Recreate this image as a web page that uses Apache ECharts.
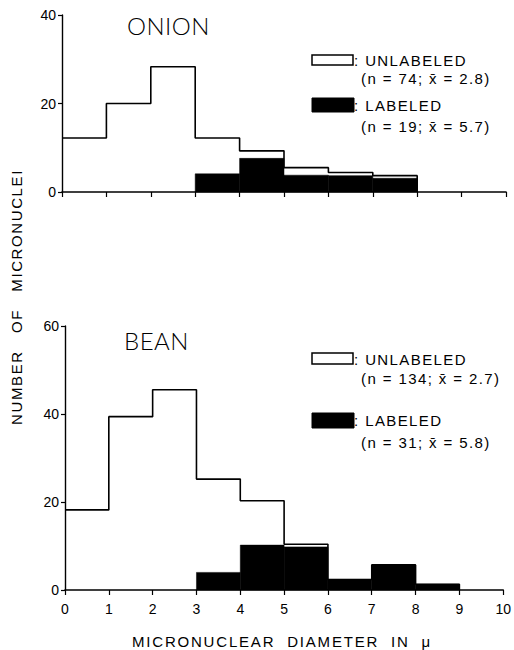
<!DOCTYPE html>
<html><head><meta charset="utf-8">
<script src="https://cdn.jsdelivr.net/npm/echarts@6/dist/echarts.min.js"></script>
<style>html,body{margin:0;padding:0;background:#fff}#c{width:514px;height:650px}</style>
</head><body><div id="c"></div>
<script>
// ---- data ----
const binEdges = [0, 1, 2, 3, 4, 5, 6, 7, 8, 9, 10];
const xTickLabels = ['0', '1', '2', '3', '4', '5', '6', '7', '8', '9', '10'];
const onionTotalOutline = [12.2, 20, 28.3, 12.2, 9.3, 5.5, 4.4, 3.7, 0, 0];
const onionLabeled = [0, 0, 0, 4.1, 7.6, 3.8, 3.7, 3.1, 0, 0];
const beanTotalOutline = [18.2, 39.4, 45.5, 25.2, 20.3, 10.4, 2.4, 5.7, 1.3, 0];
const beanLabeled = [0, 0, 0, 4.0, 10.2, 9.8, 2.4, 5.7, 1.3, 0];
const onionYTicks = [0, 20, 40];
const beanYTicks = [0, 20, 40, 60];
const onionLegend = [': UNLABELED', '(n = 74; x\u0304 = 2.8)', ': LABELED', '(n = 19; x\u0304 = 5.7)'];
const beanLegend = [': UNLABELED', '(n = 134; x\u0304 = 2.7)', ': LABELED', '(n = 31; x\u0304 = 5.8)'];
const yTitle = 'NUMBER   OF   MICRONUCLEI';
const xTitle = 'MICRONUCLEAR  DIAMETER  IN  \u03bc';

// ---- helpers ----
function outlinePoints(counts) {
  let last = -1;
  counts.forEach((v, i) => { if (v > 0) last = i; });
  const pts = [];
  for (let i = 0; i <= last; i++) pts.push([binEdges[i], counts[i]]);
  pts.push([binEdges[last + 1], 0]);
  return pts;
}
function barData(counts) {
  const d = [];
  counts.forEach((v, i) => { if (v > 0) d.push([binEdges[i], binEdges[i + 1], v]); });
  return d;
}
function renderBar(params, api) {
  const p0 = api.coord([api.value(0), api.value(2)]);
  const p1 = api.coord([api.value(1), 0]);
  return { type: 'rect', shape: { x: p0[0], y: p0[1], width: p1[0] - p0[0], height: p1[1] - p0[1] },
           style: { fill: '#000', stroke: '#000', lineWidth: 0.5 } };
}
const FONT = 'Liberation Sans, Arial, sans-serif';
const TITLE_FONT = '300 24px Lato, Liberation Sans, sans-serif';
function xAxis(gridIndex, showLabels) {
  return {
    type: 'value', gridIndex, min: 0, max: 10, interval: 1,
    axisLine: { show: true, lineStyle: { color: '#000', width: 1.6 } },
    axisTick: { show: true, inside: false, length: 5, lineStyle: { color: '#000', width: 1.2 } },
    splitLine: { show: false },
    axisLabel: { show: showLabels, color: '#000', fontSize: 14, fontFamily: FONT, margin: 12,
                 formatter: v => xTickLabels[binEdges.indexOf(v)] }
  };
}
function yAxis(gridIndex, ticks) {
  return {
    type: 'value', gridIndex, min: ticks[0], max: ticks[ticks.length - 1], interval: ticks[1] - ticks[0],
    axisLine: { show: true, lineStyle: { color: '#000', width: 1.4 } },
    axisTick: { show: true, inside: false, length: 4, lineStyle: { color: '#000', width: 1.2 } },
    splitLine: { show: false },
    axisLabel: { color: '#000', fontSize: 14, fontFamily: FONT, margin: 6 }
  };
}
function txt(x, y, text, size, align, extra) {
  return Object.assign({ type: 'text', x, y, style: { text, fill: '#000', font: size + 'px ' + FONT,
    textAlign: align || 'left', textVerticalAlign: 'middle' } }, extra || {});
}
function legend(top, labels, boxes) {
  return [
    { type: 'rect', shape: { x: 312, y: boxes[0], width: 41, height: boxes[1] }, style: { fill: '#fff', stroke: '#000', lineWidth: 1.5 } },
    txt(354, top[0], labels[0], 15),
    txt(361, top[1], labels[1], 15),
    { type: 'rect', shape: { x: 312, y: boxes[2], width: 42, height: boxes[3] }, style: { fill: '#000', stroke: '#000', lineWidth: 1 } },
    txt(354, top[2], labels[2], 15),
    txt(361, top[3], labels[3], 15)
  ];
}

const chart = echarts.init(document.getElementById('c'), null, { renderer: 'svg' });
chart.setOption({
  animation: false,
  backgroundColor: '#fff',
  grid: [
    { left: 62, right: 8, top: 15, height: 177 },
    { left: 65, right: 6, top: 326, height: 264 }
  ],
  xAxis: [xAxis(0, false), xAxis(1, true)],
  yAxis: [yAxis(0, onionYTicks), yAxis(1, beanYTicks)],
  series: [
    { type: 'custom', xAxisIndex: 0, yAxisIndex: 0, renderItem: renderBar, data: barData(onionLabeled), encode: { x: [0, 1], y: 2 }, z: 2 },
    { type: 'line', xAxisIndex: 0, yAxisIndex: 0, step: 'end', showSymbol: false, data: outlinePoints(onionTotalOutline),
      lineStyle: { color: '#000', width: 1.6 }, z: 3 },
    { type: 'custom', xAxisIndex: 1, yAxisIndex: 1, renderItem: renderBar, data: barData(beanLabeled), encode: { x: [0, 1], y: 2 }, z: 2 },
    { type: 'line', xAxisIndex: 1, yAxisIndex: 1, step: 'end', showSymbol: false, data: outlinePoints(beanTotalOutline),
      lineStyle: { color: '#000', width: 1.6 }, z: 3 }
  ],
  graphic: [
    { type: 'text', x: 127, y: 25, style: { text: 'ONION', fill: '#000', font: TITLE_FONT, textVerticalAlign: 'middle' } },
    { type: 'text', x: 124, y: 340, style: { text: 'BEAN', fill: '#000', font: TITLE_FONT, textVerticalAlign: 'middle' } },
    ...legend([60, 78, 105, 126], onionLegend, [55, 10, 98, 14]),
    ...legend([359, 378, 420, 442], beanLegend, [353, 11, 413, 15]),
    txt(16, 297, yTitle, 15, 'center', { rotation: Math.PI / 2 }),
    txt(282, 641, xTitle, 15, 'center')
  ]
});

const spacing = {};
spacing[yTitle] = 1.6;
spacing[xTitle] = 1.8;
onionLegend.concat(beanLegend).forEach(t => spacing[t] = 1.4);
spacing['ONION'] = 0.5; spacing['BEAN'] = 0.5;
function applySpacing() {
  document.querySelectorAll('#c svg text').forEach(t => {
    const s = spacing[t.textContent];
    if (s != null) t.setAttribute('letter-spacing', s + 'px');
  });
}
chart.on('finished', applySpacing);
chart.getZr().flush && chart.getZr().flush();
applySpacing();
setTimeout(applySpacing, 30);
</script></body></html>
